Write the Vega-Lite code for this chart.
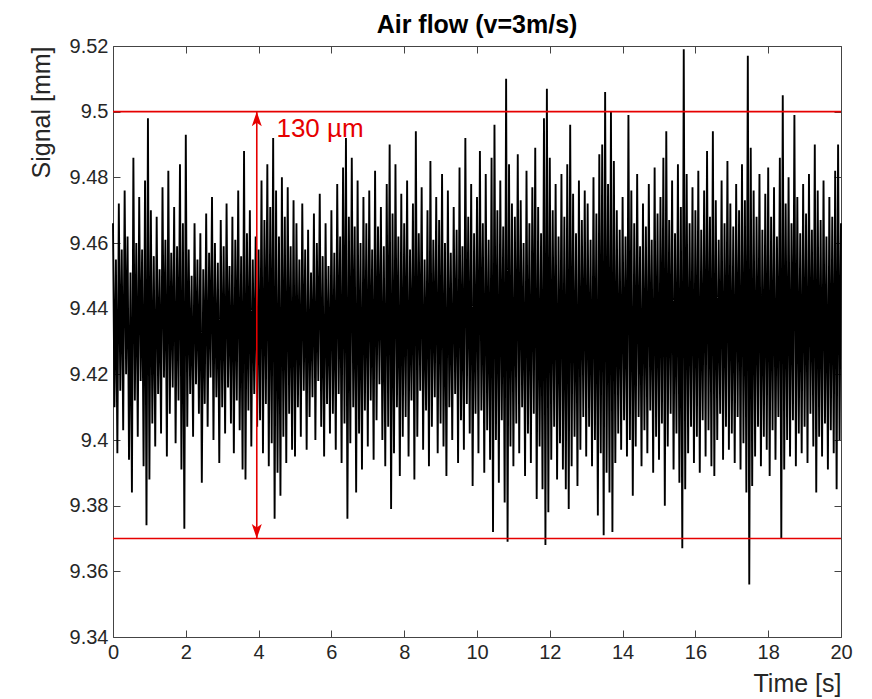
{
"$schema":"https://vega.github.io/schema/vega-lite/v6.json",
"autosize":{"type":"none"},
"padding":{"left":113,"top":46,"right":31,"bottom":62},
"width":728,"height":591,
"background":"white",
"title":{"text":"Air flow (v=3m/s)","fontSize":25,"fontWeight":"bold","font":"Liberation Sans","color":"#000000","offset":-2},
"config":{"view":{"stroke":null},"font":"Liberation Sans",
"axis":{"grid":false,"domainColor":"#444444","domainWidth":1,"tickColor":"#444444","tickWidth":1,"labelColor":"#262626","titleColor":"#262626","labelFont":"Liberation Sans","titleFont":"Liberation Sans","labelFontSize":20,"titleFontSize":25,"titleFontWeight":"normal","tickSize":-7,"labelPadding":12,"labelFlush":false,"labelOverlap":false}},
"datasets":{"signal":[
{"t":0,"v":9.466},{"t":0.04,"v":9.41},{"t":0.08,"v":9.455},{"t":0.12,"v":9.396},{"t":0.16,"v":9.472},{"t":0.2,"v":9.415},{"t":0.24,"v":9.458},{"t":0.28,"v":9.403},{"t":0.32,"v":9.476},{"t":0.36,"v":9.42},{"t":0.4,"v":9.462},{"t":0.44,"v":9.394},{"t":0.48,"v":9.451},{"t":0.52,"v":9.384},{"t":0.56,"v":9.486},{"t":0.6,"v":9.412},{"t":0.64,"v":9.46},{"t":0.68,"v":9.401},{"t":0.72,"v":9.474},{"t":0.76,"v":9.418},{"t":0.8,"v":9.458},{"t":0.84,"v":9.392},{"t":0.88,"v":9.479},{"t":0.92,"v":9.374},{"t":0.96,"v":9.498},
{"t":1,"v":9.388},{"t":1.04,"v":9.47},{"t":1.08,"v":9.405},{"t":1.12,"v":9.456},{"t":1.16,"v":9.398},{"t":1.2,"v":9.468},{"t":1.24,"v":9.414},{"t":1.28,"v":9.452},{"t":1.32,"v":9.402},{"t":1.36,"v":9.477},{"t":1.4,"v":9.419},{"t":1.44,"v":9.461},{"t":1.48,"v":9.395},{"t":1.52,"v":9.482},{"t":1.56,"v":9.408},{"t":1.6,"v":9.457},{"t":1.64,"v":9.416},{"t":1.68,"v":9.471},{"t":1.72,"v":9.399},{"t":1.76,"v":9.459},{"t":1.8,"v":9.412},{"t":1.84,"v":9.484},{"t":1.88,"v":9.391},{"t":1.92,"v":9.466},{"t":1.96,"v":9.373},
{"t":2,"v":9.493},{"t":2.04,"v":9.404},{"t":2.08,"v":9.458},{"t":2.12,"v":9.414},{"t":2.16,"v":9.45},{"t":2.2,"v":9.401},{"t":2.24,"v":9.466},{"t":2.28,"v":9.417},{"t":2.32,"v":9.455},{"t":2.36,"v":9.408},{"t":2.4,"v":9.463},{"t":2.44,"v":9.387},{"t":2.48,"v":9.452},{"t":2.52,"v":9.411},{"t":2.56,"v":9.469},{"t":2.6,"v":9.404},{"t":2.64,"v":9.457},{"t":2.68,"v":9.419},{"t":2.72,"v":9.474},{"t":2.76,"v":9.4},{"t":2.8,"v":9.46},{"t":2.84,"v":9.413},{"t":2.88,"v":9.454},{"t":2.92,"v":9.393},{"t":2.96,"v":9.467},
{"t":3,"v":9.41},{"t":3.04,"v":9.459},{"t":3.08,"v":9.402},{"t":3.12,"v":9.472},{"t":3.16,"v":9.416},{"t":3.2,"v":9.453},{"t":3.24,"v":9.405},{"t":3.28,"v":9.468},{"t":3.32,"v":9.396},{"t":3.36,"v":9.461},{"t":3.4,"v":9.412},{"t":3.44,"v":9.476},{"t":3.48,"v":9.403},{"t":3.52,"v":9.456},{"t":3.56,"v":9.391},{"t":3.6,"v":9.488},{"t":3.64,"v":9.388},{"t":3.68,"v":9.463},{"t":3.72,"v":9.409},{"t":3.76,"v":9.47},{"t":3.8,"v":9.398},{"t":3.84,"v":9.455},{"t":3.88,"v":9.414},{"t":3.92,"v":9.462},{"t":3.96,"v":9.404},
{"t":4,"v":9.458},{"t":4.04,"v":9.406},{"t":4.08,"v":9.479},{"t":4.12,"v":9.396},{"t":4.16,"v":9.467},{"t":4.2,"v":9.411},{"t":4.24,"v":9.484},{"t":4.28,"v":9.392},{"t":4.32,"v":9.471},{"t":4.36,"v":9.399},{"t":4.4,"v":9.492},{"t":4.44,"v":9.376},{"t":4.48,"v":9.476},{"t":4.52,"v":9.39},{"t":4.56,"v":9.462},{"t":4.6,"v":9.383},{"t":4.64,"v":9.48},{"t":4.68,"v":9.401},{"t":4.72,"v":9.468},{"t":4.76,"v":9.393},{"t":4.8,"v":9.477},{"t":4.84,"v":9.408},{"t":4.88,"v":9.459},{"t":4.92,"v":9.397},{"t":4.96,"v":9.473},
{"t":5,"v":9.395},{"t":5.04,"v":9.466},{"t":5.08,"v":9.41},{"t":5.12,"v":9.455},{"t":5.16,"v":9.401},{"t":5.2,"v":9.472},{"t":5.24,"v":9.415},{"t":5.28,"v":9.458},{"t":5.32,"v":9.397},{"t":5.36,"v":9.464},{"t":5.4,"v":9.407},{"t":5.44,"v":9.451},{"t":5.48,"v":9.413},{"t":5.52,"v":9.469},{"t":5.56,"v":9.4},{"t":5.6,"v":9.46},{"t":5.64,"v":9.418},{"t":5.68,"v":9.475},{"t":5.72,"v":9.404},{"t":5.76,"v":9.456},{"t":5.8,"v":9.395},{"t":5.84,"v":9.466},{"t":5.88,"v":9.411},{"t":5.92,"v":9.453},{"t":5.96,"v":9.402},
{"t":6,"v":9.47},{"t":6.04,"v":9.408},{"t":6.08,"v":9.457},{"t":6.12,"v":9.397},{"t":6.16,"v":9.478},{"t":6.2,"v":9.414},{"t":6.24,"v":9.462},{"t":6.28,"v":9.393},{"t":6.32,"v":9.483},{"t":6.36,"v":9.405},{"t":6.4,"v":9.492},{"t":6.44,"v":9.376},{"t":6.48,"v":9.468},{"t":6.52,"v":9.399},{"t":6.56,"v":9.486},{"t":6.6,"v":9.41},{"t":6.64,"v":9.465},{"t":6.68,"v":9.384},{"t":6.72,"v":9.479},{"t":6.76,"v":9.402},{"t":6.8,"v":9.46},{"t":6.84,"v":9.391},{"t":6.88,"v":9.474},{"t":6.92,"v":9.409},{"t":6.96,"v":9.466},
{"t":7,"v":9.398},{"t":7.04,"v":9.476},{"t":7.08,"v":9.412},{"t":7.12,"v":9.458},{"t":7.16,"v":9.394},{"t":7.2,"v":9.482},{"t":7.24,"v":9.406},{"t":7.28,"v":9.465},{"t":7.32,"v":9.417},{"t":7.36,"v":9.471},{"t":7.4,"v":9.4},{"t":7.44,"v":9.459},{"t":7.48,"v":9.392},{"t":7.52,"v":9.478},{"t":7.56,"v":9.404},{"t":7.6,"v":9.49},{"t":7.64,"v":9.379},{"t":7.68,"v":9.469},{"t":7.72,"v":9.396},{"t":7.76,"v":9.484},{"t":7.8,"v":9.41},{"t":7.84,"v":9.462},{"t":7.88,"v":9.389},{"t":7.92,"v":9.475},{"t":7.96,"v":9.401},
{"t":8,"v":9.466},{"t":8.04,"v":9.407},{"t":8.08,"v":9.479},{"t":8.12,"v":9.395},{"t":8.16,"v":9.458},{"t":8.2,"v":9.412},{"t":8.24,"v":9.472},{"t":8.28,"v":9.388},{"t":8.32,"v":9.494},{"t":8.36,"v":9.401},{"t":8.4,"v":9.463},{"t":8.44,"v":9.415},{"t":8.48,"v":9.477},{"t":8.52,"v":9.397},{"t":8.56,"v":9.455},{"t":8.6,"v":9.409},{"t":8.64,"v":9.47},{"t":8.68,"v":9.392},{"t":8.72,"v":9.485},{"t":8.76,"v":9.404},{"t":8.8,"v":9.461},{"t":8.84,"v":9.413},{"t":8.88,"v":9.474},{"t":8.92,"v":9.396},{"t":8.96,"v":9.467},
{"t":9,"v":9.405},{"t":9.04,"v":9.481},{"t":9.08,"v":9.398},{"t":9.12,"v":9.46},{"t":9.16,"v":9.389},{"t":9.2,"v":9.476},{"t":9.24,"v":9.41},{"t":9.28,"v":9.457},{"t":9.32,"v":9.4},{"t":9.36,"v":9.471},{"t":9.4,"v":9.414},{"t":9.44,"v":9.464},{"t":9.48,"v":9.393},{"t":9.52,"v":9.483},{"t":9.56,"v":9.406},{"t":9.6,"v":9.459},{"t":9.64,"v":9.397},{"t":9.68,"v":9.492},{"t":9.72,"v":9.411},{"t":9.76,"v":9.468},{"t":9.8,"v":9.402},{"t":9.84,"v":9.478},{"t":9.88,"v":9.386},{"t":9.92,"v":9.463},{"t":9.96,"v":9.408},
{"t":10,"v":9.474},{"t":10.04,"v":9.396},{"t":10.08,"v":9.488},{"t":10.12,"v":9.409},{"t":10.16,"v":9.466},{"t":10.2,"v":9.39},{"t":10.24,"v":9.481},{"t":10.28,"v":9.403},{"t":10.32,"v":9.461},{"t":10.36,"v":9.394},{"t":10.4,"v":9.486},{"t":10.44,"v":9.372},{"t":10.48,"v":9.496},{"t":10.52,"v":9.4},{"t":10.56,"v":9.47},{"t":10.6,"v":9.387},{"t":10.64,"v":9.479},{"t":10.68,"v":9.406},{"t":10.72,"v":9.465},{"t":10.76,"v":9.381},{"t":10.8,"v":9.51},{"t":10.84,"v":9.369},{"t":10.88,"v":9.484},{"t":10.92,"v":9.398},{"t":10.96,"v":9.472},
{"t":11,"v":9.392},{"t":11.04,"v":9.468},{"t":11.08,"v":9.405},{"t":11.12,"v":9.487},{"t":11.16,"v":9.396},{"t":11.2,"v":9.473},{"t":11.24,"v":9.41},{"t":11.28,"v":9.46},{"t":11.32,"v":9.389},{"t":11.36,"v":9.482},{"t":11.4,"v":9.402},{"t":11.44,"v":9.466},{"t":11.48,"v":9.393},{"t":11.52,"v":9.477},{"t":11.56,"v":9.408},{"t":11.6,"v":9.489},{"t":11.64,"v":9.382},{"t":11.68,"v":9.471},{"t":11.72,"v":9.398},{"t":11.76,"v":9.463},{"t":11.8,"v":9.385},{"t":11.84,"v":9.498},{"t":11.88,"v":9.368},{"t":11.92,"v":9.507},{"t":11.96,"v":9.378},
{"t":12,"v":9.486},{"t":12.04,"v":9.394},{"t":12.08,"v":9.47},{"t":12.12,"v":9.404},{"t":12.16,"v":9.478},{"t":12.2,"v":9.388},{"t":12.24,"v":9.462},{"t":12.28,"v":9.399},{"t":12.32,"v":9.481},{"t":12.36,"v":9.391},{"t":12.4,"v":9.468},{"t":12.44,"v":9.385},{"t":12.48,"v":9.484},{"t":12.52,"v":9.379},{"t":12.56,"v":9.496},{"t":12.6,"v":9.392},{"t":12.64,"v":9.475},{"t":12.68,"v":9.401},{"t":12.72,"v":9.463},{"t":12.76,"v":9.386},{"t":12.8,"v":9.479},{"t":12.84,"v":9.397},{"t":12.88,"v":9.467},{"t":12.92,"v":9.407},{"t":12.96,"v":9.476},
{"t":13,"v":9.395},{"t":13.04,"v":9.472},{"t":13.08,"v":9.404},{"t":13.12,"v":9.461},{"t":13.16,"v":9.392},{"t":13.2,"v":9.48},{"t":13.24,"v":9.4},{"t":13.28,"v":9.469},{"t":13.32,"v":9.377},{"t":13.36,"v":9.487},{"t":13.4,"v":9.396},{"t":13.44,"v":9.49},{"t":13.48,"v":9.371},{"t":13.52,"v":9.506},{"t":13.56,"v":9.39},{"t":13.6,"v":9.478},{"t":13.64,"v":9.384},{"t":13.68,"v":9.5},{"t":13.72,"v":9.372},{"t":13.76,"v":9.485},{"t":13.8,"v":9.393},{"t":13.84,"v":9.47},{"t":13.88,"v":9.402},{"t":13.92,"v":9.464},{"t":13.96,"v":9.397},
{"t":14,"v":9.474},{"t":14.04,"v":9.406},{"t":14.08,"v":9.462},{"t":14.12,"v":9.395},{"t":14.16,"v":9.499},{"t":14.2,"v":9.4},{"t":14.24,"v":9.476},{"t":14.28,"v":9.383},{"t":14.32,"v":9.466},{"t":14.36,"v":9.398},{"t":14.4,"v":9.481},{"t":14.44,"v":9.407},{"t":14.48,"v":9.459},{"t":14.52,"v":9.392},{"t":14.56,"v":9.472},{"t":14.6,"v":9.403},{"t":14.64,"v":9.465},{"t":14.68,"v":9.396},{"t":14.72,"v":9.478},{"t":14.76,"v":9.409},{"t":14.8,"v":9.461},{"t":14.84,"v":9.39},{"t":14.88,"v":9.483},{"t":14.92,"v":9.401},{"t":14.96,"v":9.469},
{"t":15,"v":9.394},{"t":15.04,"v":9.474},{"t":15.08,"v":9.405},{"t":15.12,"v":9.486},{"t":15.16,"v":9.38},{"t":15.2,"v":9.494},{"t":15.24,"v":9.398},{"t":15.28,"v":9.467},{"t":15.32,"v":9.408},{"t":15.36,"v":9.479},{"t":15.4,"v":9.391},{"t":15.44,"v":9.463},{"t":15.48,"v":9.402},{"t":15.52,"v":9.484},{"t":15.56,"v":9.387},{"t":15.6,"v":9.471},{"t":15.64,"v":9.367},{"t":15.68,"v":9.519},{"t":15.72,"v":9.385},{"t":15.76,"v":9.481},{"t":15.8,"v":9.396},{"t":15.84,"v":9.466},{"t":15.88,"v":9.404},{"t":15.92,"v":9.477},{"t":15.96,"v":9.393},
{"t":16,"v":9.47},{"t":16.04,"v":9.401},{"t":16.08,"v":9.482},{"t":16.12,"v":9.39},{"t":16.16,"v":9.464},{"t":16.2,"v":9.406},{"t":16.24,"v":9.476},{"t":16.28,"v":9.395},{"t":16.32,"v":9.488},{"t":16.36,"v":9.403},{"t":16.4,"v":9.468},{"t":16.44,"v":9.392},{"t":16.48,"v":9.494},{"t":16.52,"v":9.389},{"t":16.56,"v":9.473},{"t":16.6,"v":9.4},{"t":16.64,"v":9.461},{"t":16.68,"v":9.408},{"t":16.72,"v":9.479},{"t":16.76,"v":9.394},{"t":16.8,"v":9.466},{"t":16.84,"v":9.404},{"t":16.88,"v":9.485},{"t":16.92,"v":9.397},{"t":16.96,"v":9.472},
{"t":17,"v":9.402},{"t":17.04,"v":9.465},{"t":17.08,"v":9.393},{"t":17.12,"v":9.478},{"t":17.16,"v":9.407},{"t":17.2,"v":9.47},{"t":17.24,"v":9.391},{"t":17.28,"v":9.484},{"t":17.32,"v":9.399},{"t":17.36,"v":9.473},{"t":17.4,"v":9.384},{"t":17.44,"v":9.517},{"t":17.48,"v":9.356},{"t":17.52,"v":9.489},{"t":17.56,"v":9.386},{"t":17.6,"v":9.476},{"t":17.64,"v":9.395},{"t":17.68,"v":9.468},{"t":17.72,"v":9.404},{"t":17.76,"v":9.481},{"t":17.8,"v":9.392},{"t":17.84,"v":9.464},{"t":17.88,"v":9.401},{"t":17.92,"v":9.475},{"t":17.96,"v":9.397},
{"t":18,"v":9.483},{"t":18.04,"v":9.389},{"t":18.08,"v":9.468},{"t":18.12,"v":9.403},{"t":18.16,"v":9.477},{"t":18.2,"v":9.394},{"t":18.24,"v":9.462},{"t":18.28,"v":9.407},{"t":18.32,"v":9.486},{"t":18.36,"v":9.37},{"t":18.4,"v":9.505},{"t":18.44,"v":9.391},{"t":18.48,"v":9.472},{"t":18.52,"v":9.4},{"t":18.56,"v":9.48},{"t":18.6,"v":9.395},{"t":18.64,"v":9.466},{"t":18.68,"v":9.406},{"t":18.72,"v":9.499},{"t":18.76,"v":9.392},{"t":18.8,"v":9.474},{"t":18.84,"v":9.402},{"t":18.88,"v":9.463},{"t":18.92,"v":9.396},{"t":18.96,"v":9.478},
{"t":19,"v":9.404},{"t":19.04,"v":9.469},{"t":19.08,"v":9.393},{"t":19.12,"v":9.481},{"t":19.16,"v":9.408},{"t":19.2,"v":9.464},{"t":19.24,"v":9.398},{"t":19.28,"v":9.49},{"t":19.32,"v":9.384},{"t":19.36,"v":9.476},{"t":19.4,"v":9.401},{"t":19.44,"v":9.467},{"t":19.48,"v":9.395},{"t":19.52,"v":9.479},{"t":19.56,"v":9.405},{"t":19.6,"v":9.462},{"t":19.64,"v":9.391},{"t":19.68,"v":9.474},{"t":19.72,"v":9.403},{"t":19.76,"v":9.468},{"t":19.8,"v":9.396},{"t":19.84,"v":9.482},{"t":19.88,"v":9.385},{"t":19.92,"v":9.49},{"t":19.96,"v":9.4},{"t":20,"v":9.466}
]},
"layer":[
{"data":{"name":"signal"},"mark":{"type":"line","color":"#000000","strokeWidth":1.9},
"encoding":{
"x":{"field":"t","type":"quantitative","scale":{"domain":[0,20],"nice":false,"zero":false},"axis":{"orient":"bottom","values":[0,2,4,6,8,10,12,14,16,18,20],"title":"Time [s]","titleAnchor":"end","titlePadding":9}},
"y":{"field":"v","type":"quantitative","scale":{"domain":[9.34,9.52],"nice":false,"zero":false},"axis":{"orient":"left","values":[9.34,9.36,9.38,9.4,9.42,9.44,9.46,9.48,9.5,9.52],"format":".2~f","title":"Signal [mm]","titleAnchor":"end","titlePadding":15}}}},
{"data":{"values":[{"level":9.5},{"level":9.37}]},"mark":{"type":"rule","color":"#e60000","strokeWidth":1.6},
"encoding":{"y":{"field":"level","type":"quantitative","scale":{"domain":[9.34,9.52],"nice":false,"zero":false},"axis":null}}},
{"data":{"values":[{"t":3.95,"lo":9.37,"hi":9.5}]},"mark":{"type":"rule","color":"#e60000","strokeWidth":1.6},
"encoding":{
"x":{"field":"t","type":"quantitative","scale":{"domain":[0,20],"nice":false,"zero":false},"axis":{"orient":"top","values":[0,2,4,6,8,10,12,14,16,18,20],"labels":false,"title":null}},
"y":{"field":"lo","type":"quantitative","scale":{"domain":[9.34,9.52],"nice":false,"zero":false},"axis":{"orient":"right","values":[9.34,9.36,9.38,9.4,9.42,9.44,9.46,9.48,9.5,9.52],"labels":false,"title":null}},
"y2":{"field":"hi"}}},
{"data":{"values":[{"t":3.95,"v":9.5}]},"mark":{"type":"point","shape":"M0,0L0.5,1.45L0,1.1L-0.5,1.45Z","size":400,"filled":true,"color":"#e60000","opacity":1,"strokeWidth":0},
"encoding":{"x":{"field":"t","type":"quantitative","axis":null},"y":{"field":"v","type":"quantitative","axis":null}}},
{"data":{"values":[{"t":3.95,"v":9.37}]},"mark":{"type":"point","shape":"M0,0L0.5,-1.45L0,-1.1L-0.5,-1.45Z","size":400,"filled":true,"color":"#e60000","opacity":1,"strokeWidth":0},
"encoding":{"x":{"field":"t","type":"quantitative","axis":null},"y":{"field":"v","type":"quantitative","axis":null}}},
{"data":{"values":[{"t":4.49,"v":9.4924,"label":"130 µm"}]},"mark":{"type":"text","align":"left","baseline":"alphabetic","fontSize":26,"font":"Liberation Sans","color":"#e60000"},
"encoding":{"x":{"field":"t","type":"quantitative","axis":null},"y":{"field":"v","type":"quantitative","axis":null},"text":{"field":"label"}}}
],
"resolve":{"axis":{"x":"independent","y":"independent"}}
}
